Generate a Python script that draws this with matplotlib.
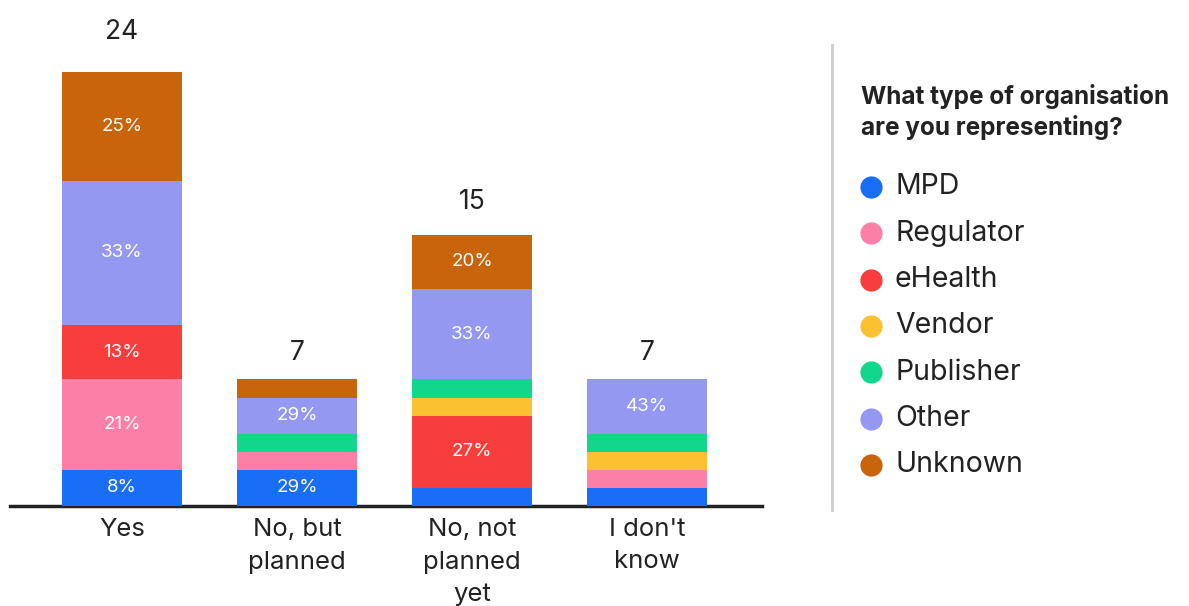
import matplotlib.pyplot as plt
from matplotlib.lines import Line2D

plt.rcParams['font.family'] = ['Inter', 'DejaVu Sans']

# answers and number of respondents per organisation type
answers = ['Yes', 'No, but\nplanned', 'No, not\nplanned\nyet', "I don't\nknow"]
orgs = ['MPD', 'Regulator', 'eHealth', 'Vendor', 'Publisher', 'Other', 'Unknown']
mpd = [2, 2, 1, 1]
regulator = [5, 1, 0, 1]
ehealth = [3, 0, 4, 0]
vendor = [0, 0, 1, 1]
publisher = [0, 1, 1, 1]
other = [8, 2, 5, 3]
unknown = [6, 1, 3, 0]
colors = ['#1a6ef5', '#fb7fa6', '#f83d3d', '#fcc131', '#12d68b', '#9598f1', '#c8640b']

series = [mpd, regulator, ehealth, vendor, publisher, other, unknown]
totals = [sum(s[i] for s in series) for i in range(len(answers))]

fig = plt.figure(figsize=(11.89, 6.06), dpi=100)
ax = fig.add_axes([10 / 1189, 100 / 606, 752 / 1189, 434 / 606])

x = list(range(len(answers)))
bottom = [0] * len(answers)
for vals, col in zip(series, colors):
    ax.bar(x, vals, bottom=bottom, width=0.686, color=col, linewidth=0)
    for i, v in enumerate(vals):
        if v >= 2:
            pct = int(100 * v / totals[i] + 0.5)
            ax.text(i, bottom[i] + v / 2, f'{pct}%', ha='center', va='center',
                    color='white', fontsize=13.5)
    bottom = [b + v for b, v in zip(bottom, vals)]

for i, t in enumerate(totals):
    ax.text(i, t * 1.045 + 0.44, str(t), ha='center', va='bottom',
            fontsize=19, color='#222222', clip_on=False)

ax.set_xlim(-0.64, 3.657)
ax.set_ylim(0, 24)
ax.set_xticks(x)
ax.set_xticklabels(answers, fontsize=18.5, color='#222222', linespacing=1.5, va='top')
ax.tick_params(axis='x', length=0, pad=9)
ax.set_yticks([])
for s in ['top', 'right', 'left']:
    ax.spines[s].set_visible(False)
ax.spines['bottom'].set_linewidth(2.5)
ax.spines['bottom'].set_color('#222222')
ax.spines['bottom'].set_zorder(0)

# separator
fig.add_artist(Line2D([832 / 1189, 832 / 1189], [1 - 45 / 606, 1 - 510 / 606],
                      color='#cccccc', linewidth=2))

# legend
fig.text(861 / 1189, 1 - 112 / 606, 'What type of organisation\nare you representing?',
         fontsize=17.5, fontweight='bold', color='#222222', ha='left', va='center',
         linespacing=1.33)
for k, (name, col) in enumerate(zip(orgs, colors)):
    yy = 1 - (187 + k * 46.3) / 606
    fig.add_artist(Line2D([871 / 1189], [yy], marker='o', markersize=16,
                          color=col, markeredgewidth=0, linestyle='none'))
    fig.text(895 / 1189, yy, name, fontsize=20.5, color='#222222',
             ha='left', va='center')

fig.savefig('out.png', dpi=100, facecolor='white')
